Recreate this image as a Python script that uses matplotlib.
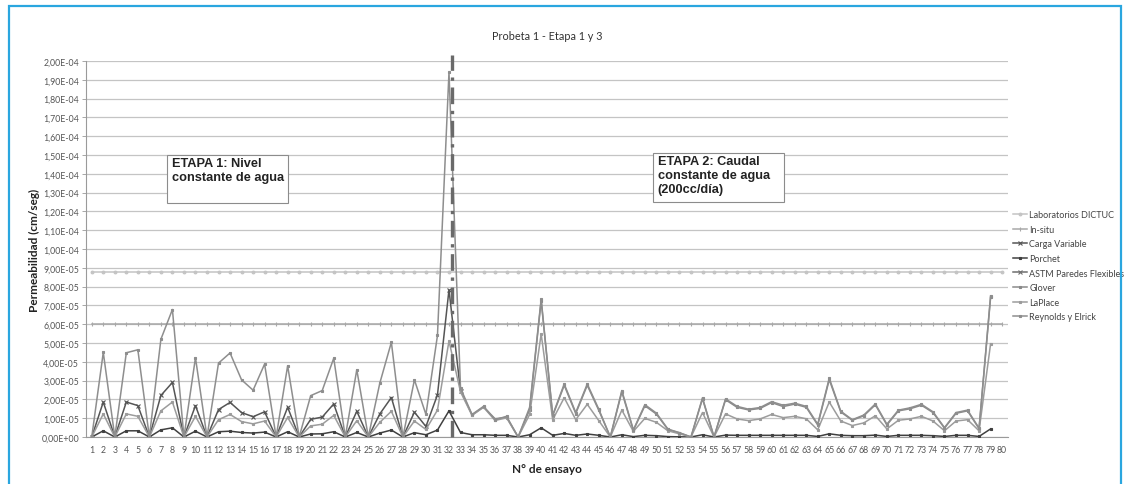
import numpy as np
import matplotlib
matplotlib.use("Agg")
import matplotlib.pyplot as plt
from matplotlib.patches import Rectangle
from matplotlib.ticker import FuncFormatter, MultipleLocator

nan = np.nan
ensayos = np.arange(1, 81)

# valores en unidades de 1e-5 cm/seg
dictuc = [8.75] * 80
in_situ = [6.0] * 80

carga_variable = [0, 1.86, 0, 1.86, 1.67, 0, 2.21, 2.9, 0, 1.67,
                  0, 1.46, 1.84, 1.3, 1.08, 1.34, 0, 1.58, 0, 0.94,
                  1.06, 1.76, 0, 1.37, 0, 1.23, 2.1, 0, 1.32, 0.56,
                  2.24, 7.83, 2.45] + [nan] * 47

porchet = [0, 0.33, 0, 0.33, 0.33, 0, 0.38, 0.49, 0, 0.31,
           0, 0.28, 0.31, 0.24, 0.21, 0.26, 0, 0.28, 0, 0.16,
           0.17, 0.28, 0, 0.24, 0, 0.21, 0.37, 0, 0.23, 0.12,
           0.37, 1.39, 0.24, 0.12, 0.12, 0.09, 0.09, 0, 0.12, 0.49,
           0.09, 0.19, 0.09, 0.16, 0.09, 0, 0.12, 0.02, 0.09, 0.07,
           0.02, 0.01, 0, 0.12, 0, 0.1, 0.09, 0.09, 0.09, 0.09,
           0.09, 0.09, 0.09, 0.03, 0.17, 0.09, 0.07, 0.07, 0.1, 0.03,
           0.09, 0.09, 0.09, 0.07, 0.03, 0.09, 0.09, 0.03, 0.43, nan]

astm = [nan] * 80

glover = [nan] * 32 + [
    2.5, 1.17, 1.6, 0.97, 1.05, 0, 1.45, 7.25,
    1.12, 2.75, 1.25, 2.75, 1.42, 0, 2.4, 0.35, 1.66, 1.22,
    0.4, 0.22, 0, 2.03, 0, 1.98, 1.58, 1.44, 1.52, 1.83,
    1.62, 1.75, 1.58, 0.64, 3.05, 1.33, 0.89, 1.13, 1.71, 0.64,
    1.39, 1.5, 1.69, 1.3, 0.47, 1.26, 1.39, 0.44, 7.42, nan]

laplace = [0, 1.23, 0, 1.23, 1.1, 0, 1.39, 1.86, 0, 1.1,
           0, 0.92, 1.2, 0.82, 0.7, 0.85, 0, 1.04, 0, 0.59,
           0.68, 1.15, 0, 0.87, 0, 0.78, 1.37, 0, 0.85, 0.4,
           1.43, 5.11, 2.4, 1.15, 1.58, 0.88, 1.02, 0, 1.2, 5.48,
           0.92, 2.09, 0.92, 1.74, 0.87, 0, 1.43, 0.3, 0.99, 0.78,
           0.33, 0.17, 0, 1.3, 0, 1.23, 0.96, 0.87, 0.96, 1.2,
           1.03, 1.1, 0.97, 0.38, 1.86, 0.85, 0.61, 0.75, 1.13, 0.43,
           0.89, 0.96, 1.1, 0.85, 0.33, 0.85, 0.92, 0.33, 4.96, nan]

reynolds = [0, 4.5, 0, 4.48, 4.64, 0, 5.2, 6.78, 0, 4.22,
            0, 3.93, 4.47, 3.04, 2.49, 3.88, 0, 3.79, 0, 2.2,
            2.47, 4.19, 0, 3.58, 0, 2.87, 5.04, 0, 3.04, 1.2,
            5.4, 19.4, 2.6, 1.2, 1.63, 0.92, 1.1, 0, 1.58, 7.34,
            1.17, 2.82, 1.3, 2.82, 1.48, 0, 2.47, 0.38, 1.72, 1.27,
            0.42, 0.23, 0, 2.09, 0, 2.03, 1.63, 1.48, 1.57, 1.88,
            1.69, 1.8, 1.63, 0.68, 3.13, 1.37, 0.92, 1.17, 1.76, 0.68,
            1.43, 1.55, 1.74, 1.34, 0.5, 1.3, 1.43, 0.47, 7.51, nan]

limite_etapa = 32.3

series = [
    ("Laboratorios DICTUC", dictuc, "#c4c4c4", "o", 2.0),
    ("In-situ", in_situ, "#a8a8a8", "|", 3),
    ("Carga Variable", carga_variable, "#555555", "x", 2.2),
    ("Porchet", porchet, "#404040", "s", 1.8),
    ("ASTM Paredes Flexibles", astm, "#6e6e6e", "x", 2.2),
    ("Glover", glover, "#8a8a8a", "s", 1.6),
    ("LaPlace", laplace, "#9c9c9c", "s", 1.6),
    ("Reynolds y Elrick", reynolds, "#8e8e8e", "s", 1.6),
]

fig = plt.figure(figsize=(11.27, 4.85), dpi=100)
ax = fig.add_axes([0.0763, 0.0969, 0.818, 0.7753])

for nombre, valores, color, marca, ms in series:
    y = np.array(valores, dtype=float) * 1e-5
    ax.plot(ensayos, y, color=color, lw=1.1, marker=marca, ms=ms,
            mew=0.8, label=nombre, zorder=3)

ax.axvline(limite_etapa, ymin=0, ymax=1.015, color="#6a6a6a", lw=2.4,
           ls=(0, (5, 2, 1, 2)), zorder=4, clip_on=False)

ax.set_xlim(0.5, 80.5)
ax.set_ylim(0, 2e-4)
ax.yaxis.set_major_locator(MultipleLocator(1e-5))
ax.yaxis.set_major_formatter(FuncFormatter(lambda v, p: f"{v:.2E}".replace(".", ",")))
ax.set_xticks(ensayos)
ax.tick_params(axis="x", length=0, labelsize=6.3, colors="#555555", pad=6)
ax.tick_params(axis="y", length=3, width=0.6, labelsize=6.3, colors="#555555",
               color="#999999", pad=2)
for lab in ax.get_xticklabels() + ax.get_yticklabels():
    lab.set_family("Lato")

ax.grid(axis="y", color="#c4c4c4", lw=0.9, zorder=0)
for lado in ["top", "right"]:
    ax.spines[lado].set_visible(False)
ax.spines["left"].set_color("#9a9a9a")
ax.spines["bottom"].set_color("#9a9a9a")
ax.spines["left"].set_linewidth(0.8)
ax.spines["bottom"].set_linewidth(0.8)

ax.set_title("Probeta 1 - Etapa 1 y 3", fontsize=7.8, color="#333333",
             family="Lato", pad=16)
ax.set_ylabel("Permeabilidad (cm/seg)", fontsize=8.5, fontweight="bold",
              family="Lato", color="#222222", labelpad=1)
ax.set_xlabel("N° de ensayo", fontsize=8.5, fontweight="bold",
              family="Lato", color="#222222", labelpad=6)

# cajas de texto de cada etapa (tamaño fijo, como en Excel)
cajas = [
    ((7.53, 1.243e-4), 10.5, 0.256e-4, "ETAPA 1: Nivel\nconstante de agua"),
    ((49.7, 1.248e-4), 11.4, 0.261e-4,
     "ETAPA 2: Caudal\nconstante de agua\n(200cc/día)"),
]
for (x0, y0), w, h, texto in cajas:
    ax.add_patch(Rectangle((x0, y0), w, h, fc="white", ec="#8c8c8c",
                           lw=0.8, zorder=5))
    ax.text(x0 + 0.4, y0 + h - 0.08e-5, texto, fontsize=9.2,
            fontweight="bold", family="Liberation Sans", color="#222222",
            va="top", ha="left", linespacing=1.25, zorder=6)

leg = ax.legend(loc="upper left", bbox_to_anchor=(0.997, 0.625), frameon=False,
                handlelength=1.5, labelspacing=0.62, handletextpad=0.3,
                prop={"family": "Lato", "size": 6.5})
for t in leg.get_texts():
    t.set_color("#444444")

fig.patches.append(Rectangle((9 / 1127, -0.02), (1121 - 9) / 1127, 1.02 - 7 / 485,
                             transform=fig.transFigure, fill=False,
                             ec="#2aa6df", lw=1.6))

fig.savefig("out.png", dpi=100)
